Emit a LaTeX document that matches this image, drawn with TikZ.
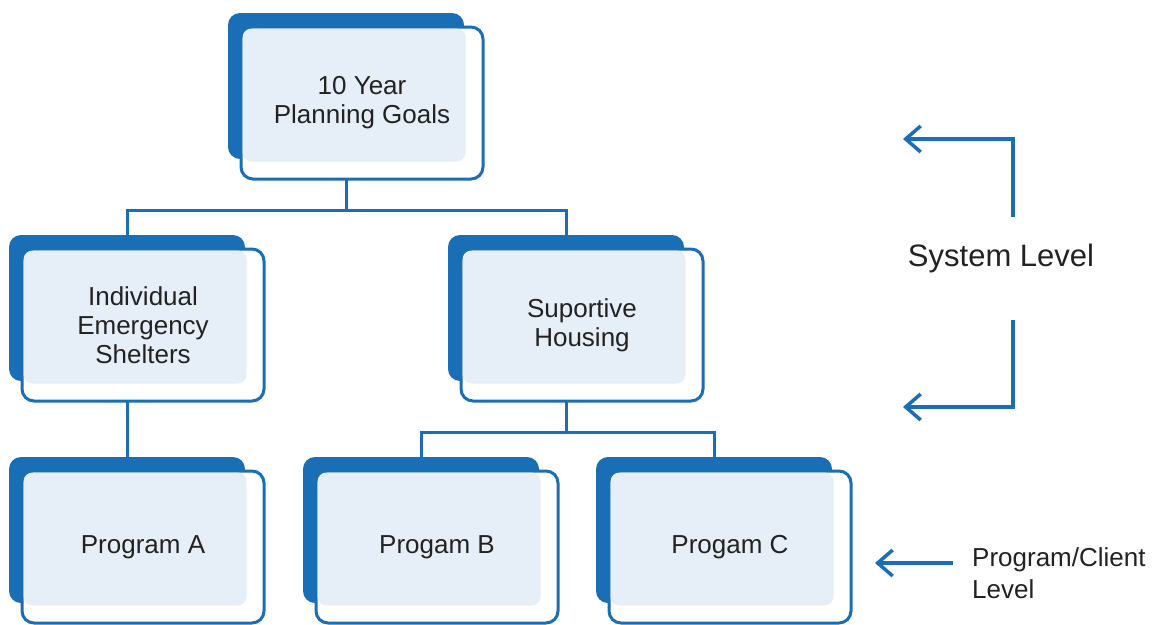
\documentclass[tikz,border=0pt]{standalone}
\usepackage{fontspec}
\setmainfont{Liberation Sans}
\usetikzlibrary{arrows.meta,backgrounds}
\definecolor{mblue}{RGB}{26,110,182}
\definecolor{mlight}{RGB}{230,239,247}
\definecolor{mtext}{RGB}{34,34,34}
\tikzset{
 backbox/.style={fill=mblue, rounded corners=12pt, minimum width=236pt, minimum height=146pt, anchor=north west, inner sep=0pt, outer sep=0pt},
 outbox/.style={fill=white, draw=mblue, line width=3pt, rounded corners=12pt, minimum width=242pt, minimum height=152pt, anchor=north west, inner sep=0pt, outer sep=0pt},
 lightbox/.style={fill=mlight, rounded corners=9pt, minimum width=223pt, minimum height=133pt, anchor=north west, inner sep=0pt, outer sep=0pt},
 lbl/.style={text=mtext, align=center, font=\fontsize{26}{29}\selectfont},
 conn/.style={draw=mblue, line width=3pt},
 sidearrow/.style={draw=mblue, line width=3.5pt, -{Straight Barb[length=15pt,width=26pt]}},
}
\newcommand{\orgbox}[4]{%
 \node[backbox] (#1b) at (#2,#3) {};
 \node[outbox] (#1) at (#2+13,#3+14) {};
 \node[lightbox] (#1l) at (#2+14.5,#3+15.5) {};
 \node[lbl] (#1t) at (#1.center) {#4};
}
\begin{document}
\begin{tikzpicture}[x=1pt,y=-1pt]
\useasboundingbox (0,0) rectangle (1154,624);
\orgbox{top}{228}{13}{10 Year\\Planning Goals}
\orgbox{shel}{9}{235}{Individual\\Emergency\\Shelters}
\orgbox{hous}{448}{235}{Suportive\\Housing}
\orgbox{pa}{9}{457}{Program A}
\orgbox{pb}{303}{457}{Progam B}
\orgbox{pc}{596}{457}{Progam C}
\begin{pgfonlayer}{background}
 \fill[white] (0,0) rectangle (1154,624);
 \draw[conn] (topb.south) -- ++(0,51) -| (shelb.north);
 \draw[conn] (topb.south) ++(0,51) -| (housb.north);
 \draw[conn] (shelb.south) -- (pab.north);
 \draw[conn] (housb.south) -- ++(0,51) -| (pbb.north);
 \draw[conn] (housb.south) ++(0,51) -| (pcb.north);
\end{pgfonlayer}
\node[font=\fontsize{31}{36}\selectfont, text=mtext] (sys) at (1001,258) {System Level};
\coordinate (s1) at (1013,217);
\coordinate (e1) at (903,139);
\draw[sidearrow] (s1) |- (e1);
\coordinate (s2) at (1013,320);
\coordinate (e2) at (903,407);
\draw[sidearrow] (s2) |- (e2);
\node[font=\fontsize{26}{32}\selectfont, text=mtext, align=left, anchor=north west, inner sep=0pt] (pcl) at (972,547) {Program/Client\\Level};
\coordinate (s3) at (953,563);
\coordinate (e3) at (875,563);
\draw[sidearrow] (s3) -- (e3);
\end{tikzpicture}
\end{document}
